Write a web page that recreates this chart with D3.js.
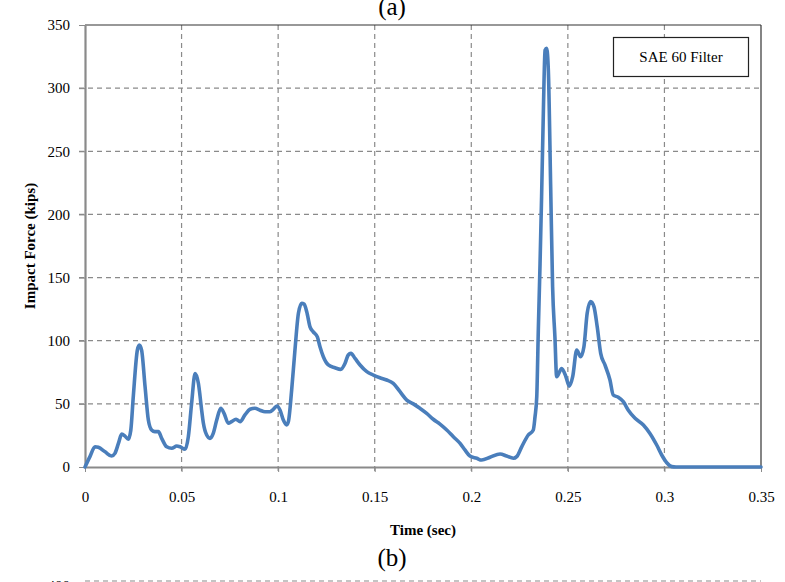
<!DOCTYPE html>
<html>
<head>
<meta charset="utf-8">
<script src="https://cdn.jsdelivr.net/npm/d3@7"></script>
<style>
  body { margin: 0; background: #fff; }
  svg text { font-family: "Liberation Serif", "Times New Roman", serif; fill: #000; }
  .grid line { stroke: #8a8a8a; stroke-dasharray: 5,4; stroke-width: 1.2; }
</style>
</head>
<body>
<svg id="chart"></svg>
<script>
// time (sec) and impact force (kips)
const timeSec = [
  0, 0.0025, 0.0052, 0.0069, 0.0104, 0.0138, 0.0155, 0.0173, 0.019, 0.0207, 0.0224, 0.0237,
  0.025, 0.0271, 0.0281, 0.0293, 0.0311, 0.0328, 0.0345, 0.0362, 0.038, 0.0397, 0.0423,
  0.0449, 0.0475, 0.0492, 0.0518, 0.0535, 0.0552, 0.057, 0.0587, 0.0604, 0.0613, 0.063,
  0.0647, 0.0664, 0.0682, 0.0703, 0.072, 0.0742, 0.0759, 0.0782, 0.0803, 0.0828, 0.0854,
  0.088, 0.0906, 0.0932, 0.0958, 0.0975, 0.0993, 0.101, 0.1027, 0.1044, 0.1053, 0.107,
  0.1087, 0.1105, 0.1122, 0.1134, 0.1148, 0.1165, 0.1182, 0.1203, 0.1217, 0.1234, 0.126,
  0.1294, 0.1324, 0.1346, 0.1363, 0.1377, 0.1398, 0.1424, 0.1459, 0.1493, 0.1527, 0.1562,
  0.1596, 0.1631, 0.1666, 0.17, 0.1734, 0.1769, 0.1803, 0.1838, 0.1873, 0.1907, 0.1942,
  0.1967, 0.1993, 0.2028, 0.2054, 0.2097, 0.2149, 0.2183, 0.2218, 0.2235, 0.2261, 0.2295,
  0.2321, 0.233, 0.2339, 0.2347, 0.2356, 0.2364, 0.2373, 0.2382, 0.239, 0.2399, 0.2411,
  0.2421, 0.2433, 0.2442, 0.2468, 0.249, 0.2507, 0.2525, 0.2546, 0.2566, 0.2583, 0.26,
  0.2618, 0.2635, 0.2652, 0.267, 0.2692, 0.2718, 0.2735, 0.2761, 0.2787, 0.2813, 0.2848,
  0.2891, 0.2925, 0.296, 0.2986, 0.3012, 0.3038, 0.306, 0.31, 0.35
];
const forceKips = [
  0, 8, 16, 15.6, 12, 8.7, 10.8, 18.7, 26, 24.5, 22, 29,
  55.7, 92.6, 96.6, 92.6, 63.6, 37.2, 29.3, 28, 28, 22.7, 16,
  14.8, 16.6, 16, 14, 24, 50.4, 74, 66.3, 45, 34.6, 25.3,
  22.7, 26.7, 37.2, 46.5, 42.5, 34.6, 35.9, 37.8, 35.9, 41.2, 45.7,
  46.5, 45, 43.8, 43.8, 45.7, 48.3, 45, 37.2, 33.3, 35.9, 61,
  92.6, 121.7, 129.6, 129, 123, 111, 107, 103, 95, 87.3, 80.8,
  78.6, 77.3, 82, 88.7, 90, 86, 80.8, 75.5, 72.8, 70.7, 68.9,
  66.3, 59.6, 53, 50, 46.5, 42.5, 37.8, 34, 29.3, 24, 18.7,
  13.5, 8.7, 6.9, 5.5, 7.7, 10.3, 8.7, 6.9, 8.2, 16, 25.3,
  29.3, 39.8, 55.7, 108, 161, 214, 280, 330, 331.5, 314, 222,
  142.8, 103, 71.5, 78, 71.5, 64, 71.5, 92.6, 87.3, 95, 121.7,
  131, 127, 111, 90, 80.8, 68.9, 57, 55.2, 51.7, 45, 38.6,
  33.3, 26.6, 17.4, 9.5, 3.4, 0.3, 0, 0, 0
];
const xTicks = [0, 0.05, 0.1, 0.15, 0.2, 0.25, 0.3, 0.35];
const yTicks = [0, 50, 100, 150, 200, 250, 300, 350];
const legendLabel = 'SAE 60 Filter';

const width = 785, height = 582;
const svg = d3.select('#chart').attr('width', width).attr('height', height);

const x = d3.scaleLinear().domain([0, 0.35]).range([85, 761]);
const y = d3.scaleLinear().domain([0, 350]).range([467, 25]);

// grid
svg.append('g').attr('class', 'grid')
  .selectAll('line.v')
  .data(xTicks.filter(d => d > 0 && d < 0.35))
  .join('line')
  .attr('x1', d => x(d)).attr('x2', d => x(d))
  .attr('y1', y(350)).attr('y2', y(0) + 5);

svg.append('g').attr('class', 'grid')
  .selectAll('line.h')
  .data(yTicks.filter(d => d > 0 && d < 350))
  .join('line')
  .attr('x1', x(0) - 6).attr('x2', x(0.35))
  .attr('y1', d => y(d)).attr('y2', d => y(d));

// frame: top & right dark, left & bottom grey axes
svg.append('line').attr('x1', x(0)).attr('x2', x(0.35)).attr('y1', y(350)).attr('y2', y(350))
  .attr('stroke', '#333').attr('stroke-width', 1.2);
svg.append('line').attr('x1', x(0.35)).attr('x2', x(0.35)).attr('y1', y(350)).attr('y2', y(0))
  .attr('stroke', '#333').attr('stroke-width', 1.2);

const xAxis = d3.axisBottom(x).tickValues(xTicks).tickSize(5).tickSizeOuter(0).tickFormat(d => d3.format('')(d));
const yAxis = d3.axisLeft(y).tickValues(yTicks).tickSize(6).tickSizeOuter(0);

svg.append('g')
  .attr('transform', `translate(0,${y(0)})`)
  .call(xAxis)
  .call(g => g.select('.domain').attr('stroke', '#8a8a8a').attr('stroke-width', 2.2))
  .call(g => g.selectAll('.tick line').attr('stroke', '#8a8a8a'))
  .call(g => g.selectAll('.tick text').attr('font-size', 15).attr('dy', 0).attr('y', 35)
    .attr('font-family', '"Liberation Serif", serif'));

svg.append('g')
  .attr('transform', `translate(${x(0)},0)`)
  .call(yAxis)
  .call(g => g.select('.domain').attr('stroke', '#8a8a8a').attr('stroke-width', 2.2))
  .call(g => g.selectAll('.tick line').attr('stroke', '#8a8a8a'))
  .call(g => g.selectAll('.tick text').attr('font-size', 15).attr('x', -15)
    .attr('font-family', '"Liberation Serif", serif'));

// trace
const pts = timeSec.map((t, i) => [t, forceKips[i]]);
svg.append('path')
  .datum(pts)
  .attr('fill', 'none')
  .attr('stroke', '#4a7ebb')
  .attr('stroke-width', 3.6)
  .attr('stroke-linejoin', 'round')
  .attr('stroke-linecap', 'round')
  .attr('d', d3.line().x(d => x(d[0])).y(d => y(d[1])).curve(d3.curveMonotoneX));

// legend box
svg.append('rect')
  .attr('x', 613.5).attr('y', 37.5).attr('width', 135).attr('height', 39)
  .attr('fill', '#fff').attr('stroke', '#222').attr('stroke-width', 1.2);
svg.append('text')
  .attr('x', 681).attr('y', 62).attr('text-anchor', 'middle')
  .attr('font-size', 15).text(legendLabel);

// axis titles
svg.append('text')
  .attr('x', 423).attr('y', 535).attr('text-anchor', 'middle')
  .attr('font-size', 15).attr('font-weight', 'bold').text('Time (sec)');
svg.append('text')
  .attr('transform', `translate(35,${(y(0) + y(350)) / 2}) rotate(-90)`)
  .attr('text-anchor', 'middle')
  .attr('font-size', 15).attr('font-weight', 'bold').text('Impact Force (kips)');

// panel labels
svg.append('text').attr('x', 392).attr('y', 15).attr('text-anchor', 'middle')
  .attr('font-size', 25).text('(a)');
svg.append('text').attr('x', 392).attr('y', 566).attr('text-anchor', 'middle')
  .attr('font-size', 25).text('(b)');

// top edge of the next panel, cut off by the page
svg.append('text').attr('x', 70).attr('y', 591).attr('text-anchor', 'end')
  .attr('font-size', 15).text('400');
svg.append('line').attr('x1', 85).attr('x2', 761).attr('y1', 581).attr('y2', 581)
  .attr('stroke', '#8a8a8a').attr('stroke-dasharray', '5,4').attr('stroke-width', 1.2);
</script>
</body>
</html>
